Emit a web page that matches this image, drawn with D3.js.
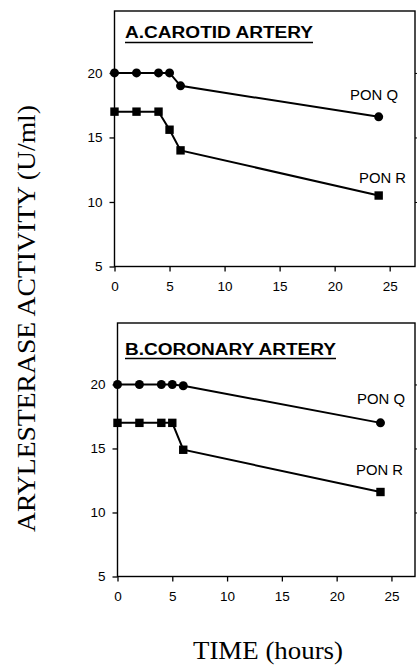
<!DOCTYPE html>
<html>
<head>
<meta charset="utf-8">
<script src="https://cdn.jsdelivr.net/npm/d3@7"></script>
<style>
  html, body { margin: 0; padding: 0; background: #fff; }
  svg { display: block; }
</style>
</head>
<body>
<svg id="chart" width="417" height="666"></svg>
<script>
// ---- data ----
const times = [0, 2, 4, 5, 6, 24];
const carotidQ = [20, 20, 20, 20, 19, 16.6];
const carotidR = [17, 17, 17, 15.6, 14, 10.5];
const coronaryQ = [20, 20, 20, 20, 19.9, 17];
const coronaryR = [17, 17, 17, 17, 14.9, 11.6];
const xTicks = [0, 5, 10, 15, 20, 25];
const yTicks = [5, 10, 15, 20];
const panelTitles = ["A.CAROTID ARTERY", "B.CORONARY ARTERY"];
const seriesLabels = ["PON Q", "PON R"];

const svg = d3.select("#chart");
const SANS = "'Liberation Sans', Arial, Helvetica, sans-serif";
const SERIF = "'Liberation Serif', 'Times New Roman', Times, serif";

const panels = [
  { title: panelTitles[0], q: carotidQ, r: carotidR,
    left: 114.5, right: 415, top: 11, bottom: 266.5, xMax: 27.3,
    titleX: 125, titleY: 38.3, titleW: 188, ulY: 42.5,
    qLab: [350, 100], rLab: [359, 183] },
  { title: panelTitles[1], q: coronaryQ, r: coronaryR,
    left: 117.5, right: 415, top: 323, bottom: 576.5, xMax: 27.15,
    titleX: 125, titleY: 354.5, titleW: 211, ulY: 358.5,
    qLab: [357, 404], rLab: [356, 475] }
];

panels.forEach(p => {
  const x = d3.scaleLinear().domain([0, p.xMax]).range([p.left, p.right]);
  const y = d3.scaleLinear().domain([5, 24.8]).range([p.bottom, p.top]);
  const g = svg.append("g");

  // frame
  g.append("rect")
    .attr("x", p.left).attr("y", p.top)
    .attr("width", p.right - p.left).attr("height", p.bottom - p.top)
    .attr("fill", "none").attr("stroke", "#000").attr("stroke-width", 1.4);

  // left axis
  const yAx = g.append("g").attr("transform", `translate(${p.left},0)`)
    .call(d3.axisLeft(y).tickValues(yTicks).tickSize(5).tickPadding(7).tickFormat(d3.format("d")));
  yAx.select(".domain").remove();
  yAx.selectAll("line").attr("stroke-width", 1.3);
  yAx.selectAll("text").attr("font-family", SANS).attr("font-size", 13.5).attr("fill", "#000");

  // right axis ticks (outward)
  const yAxR = g.append("g").attr("transform", `translate(${p.right},0)`)
    .call(d3.axisRight(y).tickValues(yTicks.slice(1)).tickSize(3).tickFormat(""));
  yAxR.select(".domain").remove();

  // bottom axis
  const xAx = g.append("g").attr("transform", `translate(0,${p.bottom})`)
    .call(d3.axisBottom(x).tickValues(xTicks).tickSize(5).tickPadding(10).tickFormat(d3.format("d")));
  xAx.select(".domain").remove();
  xAx.selectAll("line").attr("stroke-width", 1.3);
  xAx.selectAll("text").attr("font-family", SANS).attr("font-size", 13.5).attr("fill", "#000");

  // title
  g.append("text")
    .attr("x", p.titleX).attr("y", p.titleY)
    .attr("font-family", SANS).attr("font-size", 16).attr("font-weight", "bold")
    .attr("textLength", p.titleW).attr("lengthAdjust", "spacingAndGlyphs")
    .text(p.title);
  g.append("line")
    .attr("x1", p.titleX).attr("x2", p.titleX + p.titleW)
    .attr("y1", p.ulY).attr("y2", p.ulY)
    .attr("stroke", "#000").attr("stroke-width", 1.5);

  const line = d3.line().x(d => x(d[0])).y(d => y(d[1]));
  const qPts = times.map((t, i) => [t, p.q[i]]);
  const rPts = times.map((t, i) => [t, p.r[i]]);

  g.append("path").datum(qPts).attr("d", line)
    .attr("fill", "none").attr("stroke", "#000").attr("stroke-width", 2);
  g.append("path").datum(rPts).attr("d", line)
    .attr("fill", "none").attr("stroke", "#000").attr("stroke-width", 2);

  g.selectAll(".qdot").data(qPts).enter().append("circle")
    .attr("cx", d => x(d[0])).attr("cy", d => y(d[1])).attr("r", 4.5).attr("fill", "#000");
  g.selectAll(".rsq").data(rPts).enter().append("rect")
    .attr("x", d => x(d[0]) - 4.2).attr("y", d => y(d[1]) - 4.2)
    .attr("width", 8.4).attr("height", 8.4).attr("fill", "#000");

  g.append("text").attr("x", p.qLab[0]).attr("y", p.qLab[1])
    .attr("font-family", SANS).attr("font-size", 14)
    .attr("textLength", 48).attr("lengthAdjust", "spacingAndGlyphs")
    .text(seriesLabels[0]);
  g.append("text").attr("x", p.rLab[0]).attr("y", p.rLab[1])
    .attr("font-family", SANS).attr("font-size", 14)
    .attr("textLength", 47).attr("lengthAdjust", "spacingAndGlyphs")
    .text(seriesLabels[1]);
});

// axis titles
svg.append("text")
  .attr("transform", "translate(35,318.5) rotate(-90)")
  .attr("text-anchor", "middle")
  .attr("font-family", SERIF).attr("font-size", 26)
  .attr("textLength", 427).attr("lengthAdjust", "spacingAndGlyphs")
  .text("ARYLESTERASE ACTIVITY (U/ml)");

svg.append("text")
  .attr("x", 268).attr("y", 659.3)
  .attr("text-anchor", "middle")
  .attr("font-family", SERIF).attr("font-size", 25)
  .attr("textLength", 150).attr("lengthAdjust", "spacingAndGlyphs")
  .text("TIME (hours)");
</script>
</body>
</html>
